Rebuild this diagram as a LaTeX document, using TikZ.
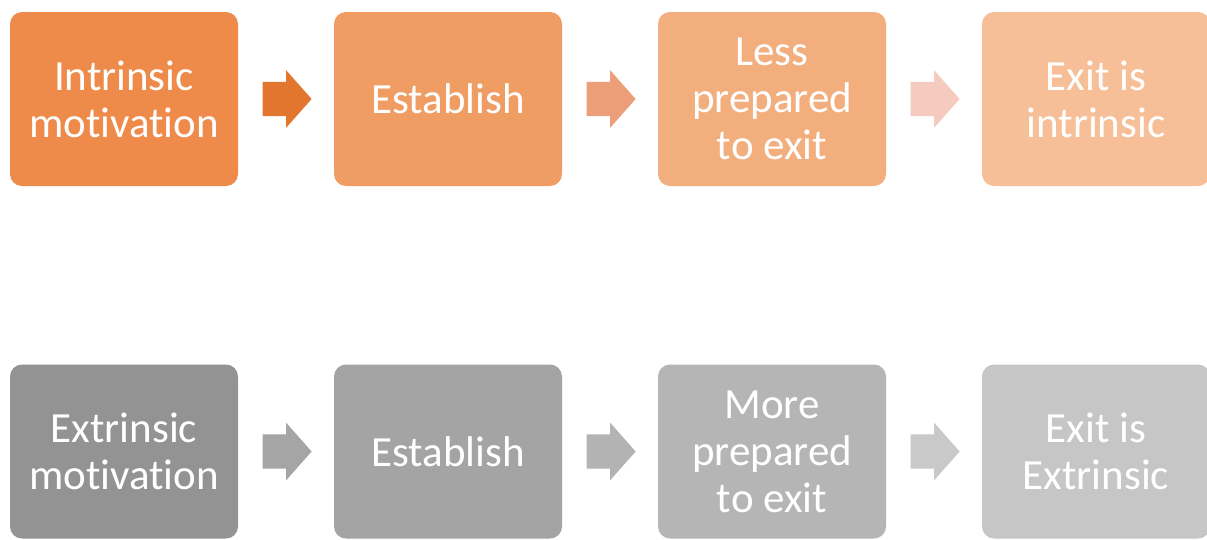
\documentclass[tikz,border=0pt]{standalone}
\usepackage{fontspec}
\setmainfont{Carlito}[Ligatures={NoCommon,NoRare}]
\usetikzlibrary{shapes.arrows,calc}
\definecolor{o1}{HTML}{EF8B4A}
\definecolor{o2}{HTML}{F09D63}
\definecolor{o3}{HTML}{F3AE7E}
\definecolor{o4}{HTML}{F6BF98}
\definecolor{oa1}{HTML}{E3762F}
\definecolor{oa2}{HTML}{EC9E78}
\definecolor{oa3}{HTML}{F6CBBF}
\definecolor{g1}{HTML}{939393}
\definecolor{g2}{HTML}{A4A4A4}
\definecolor{g3}{HTML}{B5B5B5}
\definecolor{g4}{HTML}{C6C6C6}
\definecolor{ga1}{HTML}{A5A5A5}
\definecolor{ga2}{HTML}{B3B3B3}
\definecolor{ga3}{HTML}{C9C9C9}
\tikzset{
  stepbox/.style={rectangle, rounded corners=12pt, minimum width=228pt, minimum height=174pt, inner sep=0pt, text=white, align=center, font=\fontsize{43}{47}\selectfont},
  blockarrow/.style={single arrow, minimum height=49pt, inner xsep=0pt, inner ysep=17pt, single arrow head extend=11.5pt, single arrow tip angle=97, single arrow head indent=0pt, draw=none}
}
\begin{document}
\begin{tikzpicture}[x=1pt,y=-1pt]
\useasboundingbox[fill=white] (0,0) rectangle (1207,539);
\node[stepbox, fill=o1] (t1) at (124,99) {Intrinsic\\motivation};
\node[stepbox, fill=o2] (t2) at (448,99) {Establish};
\node[stepbox, fill=o3] (t3) at (772,99) {Less\\prepared\\to exit};
\node[stepbox, fill=o4] (t4) at (1096,99) {Exit is\\intrinsic};
\node[stepbox, fill=g1] (b1) at (124,451.5) {Extrinsic\\motivation};
\node[stepbox, fill=g2] (b2) at (448,451.5) {Establish};
\node[stepbox, fill=g3] (b3) at (772,451.5) {More\\prepared\\to exit};
\node[stepbox, fill=g4] (b4) at (1096,451.5) {Exit is\\Extrinsic};
\node[blockarrow, fill=oa1] (ta1) at ($(t1.east)!0.5!(t2.west)+(-6.5,0)$) {};
\node[blockarrow, fill=oa2] (ta2) at ($(t2.east)!0.5!(t3.west)+(-6.5,0)$) {};
\node[blockarrow, fill=oa3] (ta3) at ($(t3.east)!0.5!(t4.west)+(-6.5,0)$) {};
\node[blockarrow, fill=ga1] (ba1) at ($(b1.east)!0.5!(b2.west)+(-6.5,0)$) {};
\node[blockarrow, fill=ga2] (ba2) at ($(b2.east)!0.5!(b3.west)+(-6.5,0)$) {};
\node[blockarrow, fill=ga3] (ba3) at ($(b3.east)!0.5!(b4.west)+(-6.5,0)$) {};
\end{tikzpicture}
\end{document}
